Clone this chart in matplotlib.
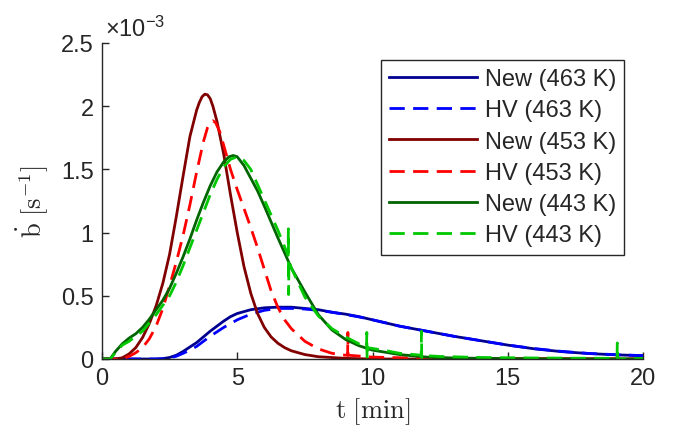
import matplotlib
matplotlib.use("Agg")
import matplotlib.pyplot as plt
from matplotlib.ticker import FuncFormatter

plt.rcParams['font.family'] = ['Liberation Sans', 'DejaVu Sans']
plt.rcParams['mathtext.fontset'] = 'cm'

SCALE = 1e-3

# New (463 K)
t_new463 = [0, 2.0, 2.25, 2.5, 2.75, 3.0, 3.25, 3.5, 3.75, 4.0, 4.25, 4.5, 4.75, 5.0, 5.5, 6.0, 6.5,
            7.0, 7.5, 8.0, 8.5, 9.0, 9.5, 10, 10.5, 11, 12, 13, 14, 15, 16, 17, 18, 19, 20]
v_new463 = [0, 0, 0.003, 0.012, 0.03, 0.06, 0.095, 0.13, 0.175, 0.22, 0.26, 0.30, 0.335, 0.36, 0.39,
            0.405, 0.41, 0.41, 0.40, 0.39, 0.37, 0.355, 0.335, 0.31, 0.285, 0.26, 0.22, 0.18, 0.145,
            0.11, 0.08, 0.058, 0.043, 0.033, 0.026]

# HV (463 K)
t_hv463 = [0, 2.0, 2.25, 2.5, 2.75, 3.0, 3.25, 3.5, 3.75, 4.0, 4.25, 4.5, 4.75, 5.0, 5.5, 6.0, 6.5,
           7.0, 7.5, 8.0, 8.5, 9.0, 9.5, 10, 10.5, 11, 12, 13, 14, 15, 16, 17, 18, 19, 20]
v_hv463 = [0, 0, 0.002, 0.008, 0.022, 0.045, 0.07, 0.10, 0.14, 0.18, 0.215, 0.25, 0.28, 0.31, 0.355,
           0.385, 0.40, 0.40, 0.395, 0.385, 0.37, 0.352, 0.333, 0.31, 0.285, 0.26, 0.22, 0.18, 0.145,
           0.11, 0.082, 0.06, 0.044, 0.034, 0.027]

# New (453 K)
t_new453 = [0, 0.5, 0.75, 1.0, 1.25, 1.5, 1.75, 2.0, 2.25, 2.5, 2.75, 3.0, 3.25, 3.5, 3.6, 3.7, 3.8,
            3.9, 4.0, 4.1, 4.25, 4.5, 4.75, 5.0, 5.25, 5.5, 5.75, 6.0, 6.25, 6.5, 6.75, 7.0, 7.5,
            8.0, 9.0, 10, 20]
v_new453 = [0, 0, 0.01, 0.04, 0.09, 0.17, 0.28, 0.42, 0.60, 0.83, 1.13, 1.45, 1.76, 1.97, 2.03, 2.075,
            2.095, 2.09, 2.06, 2.00, 1.88, 1.62, 1.30, 1.00, 0.73, 0.52, 0.36, 0.25, 0.175, 0.125,
            0.09, 0.065, 0.035, 0.018, 0.005, 0, 0]

# HV (453 K)
t_hv453 = [0, 0.75, 1.0, 1.25, 1.5, 1.75, 2.0, 2.25, 2.5, 2.75, 3.0, 3.25, 3.5, 3.75, 3.9, 4.0, 4.1,
           4.2, 4.35, 4.5, 4.75, 5.0, 5.25, 5.5, 5.75, 6.0, 6.25, 6.5, 6.75, 7.0, 7.5, 8.0, 8.5, 9.0,
           9.08, 9.09, 9.10, 10, 12, 20]
v_hv453 = [0, 0, 0.02, 0.05, 0.09, 0.16, 0.26, 0.40, 0.58, 0.77, 0.98, 1.22, 1.48, 1.72, 1.83, 1.87,
           1.885, 1.87, 1.80, 1.69, 1.50, 1.34, 1.19, 1.04, 0.88, 0.71, 0.54, 0.41, 0.31, 0.24, 0.14,
           0.08, 0.045, 0.03, 0.03, 0.21, 0.03, 0.015, 0.005, 0]

# New (443 K)
t_new443 = [0, 0.3, 0.5, 0.75, 1.0, 1.25, 1.5, 1.75, 2.0, 2.25, 2.5, 2.75, 3.0, 3.25, 3.5, 3.75, 4.0,
            4.25, 4.5, 4.7, 4.85, 5.0, 5.25, 5.5, 5.75, 6.0, 6.5, 7.0, 7.5, 8.0, 8.5, 9.0, 9.5, 10,
            11, 12, 13, 15, 20]
v_new443 = [0, 0, 0.06, 0.12, 0.165, 0.20, 0.25, 0.315, 0.39, 0.465, 0.56, 0.68, 0.81, 0.95, 1.10,
            1.24, 1.37, 1.48, 1.56, 1.60, 1.61, 1.60, 1.53, 1.43, 1.33, 1.21, 0.96, 0.72, 0.53, 0.35,
            0.23, 0.155, 0.105, 0.07, 0.035, 0.015, 0.008, 0.003, 0]

# HV (443 K)
t_hv443 = [0, 0.3, 0.5, 0.75, 1.0, 1.25, 1.5, 2.0, 2.5, 2.75, 3.0, 3.25, 3.5, 3.75, 4.0, 4.25, 4.5,
           4.75, 5.0, 5.25, 5.5, 6.0, 6.5, 6.88, 6.89, 6.90, 6.91, 7.0, 7.5, 8.0, 8.5, 9.0, 9.5, 9.78,
           9.79, 9.80, 9.81, 10.5, 11, 11.80, 11.81, 11.82, 11.83, 12.5, 14, 16, 19.04, 19.05, 19.06, 20]
v_hv443 = [0, 0, 0.05, 0.11, 0.14, 0.18, 0.22, 0.35, 0.50, 0.61, 0.74, 0.88, 1.02, 1.16, 1.30, 1.42,
           1.52, 1.58, 1.60, 1.57, 1.50, 1.26, 1.02, 0.82, 1.03, 0.51, 0.78, 0.72, 0.49, 0.34, 0.24,
           0.175, 0.12, 0.10, 0.21, 0.0, 0.09, 0.066, 0.045, 0.03, 0.22, 0.01, 0.028, 0.02, 0.012,
           0.008, 0.005, 0.127, 0.0, 0.005]

series = [
    ("New (463 K)", t_new463, v_new463, "#000090", "-"),
    ("HV (463 K)", t_hv463, v_hv463, "#0000FF", "--"),
    ("New (453 K)", t_new453, v_new453, "#800000", "-"),
    ("HV (453 K)", t_hv453, v_hv453, "#FF0000", "--"),
    ("New (443 K)", t_new443, v_new443, "#006400", "-"),
    ("HV (443 K)", t_hv443, v_hv443, "#00C800", "--"),
]

xticks = [0, 5, 10, 15, 20]
yticks = [0, 0.5, 1, 1.5, 2, 2.5]

fig = plt.figure(figsize=(6.73, 4.39), dpi=100)
ax = fig.add_axes([102/673, 1-360/439, 541/673, 316/439])

for label, t, v, color, ls in series:
    vals = [x * SCALE for x in v]
    if ls == "--":
        ax.plot(t, vals, color=color, lw=2, ls=ls, dashes=(5.5, 3), label=label)
    else:
        ax.plot(t, vals, color=color, lw=2, ls=ls, label=label)

ax.set_xlim(0, 20)
ax.set_ylim(0, 2.5 * SCALE)
ax.set_xticks(xticks)
ax.set_yticks([y * SCALE for y in yticks])
ax.yaxis.set_major_formatter(FuncFormatter(lambda val, pos: "%g" % round(val / SCALE, 6)))
ax.xaxis.set_major_formatter(FuncFormatter(lambda val, pos: "%g" % val))

gray = "#262626"
for s in ["top", "right"]:
    ax.spines[s].set_visible(False)
for s in ["left", "bottom"]:
    ax.spines[s].set_color(gray)
    ax.spines[s].set_linewidth(1.0)
ax.tick_params(direction="in", length=5, width=1, colors=gray, labelsize=17, pad=6)

ax.set_xlabel(r"$\mathrm{t}\ [\mathrm{min}]$", fontsize=19, color=gray, labelpad=4)
ax.set_ylabel(r"$\dot{\mathrm{b}}\ [\mathrm{s}^{-1}]$", fontsize=19, color=gray, labelpad=8)

ax.text(0.006, 1.022, r"$\mathregular{\times10^{-3}}$", transform=ax.transAxes,
        fontsize=17, color=gray, ha="left", va="baseline")

leg = ax.legend(loc="upper left", bbox_to_anchor=((381-102)/541, (360-61)/316),
                fontsize=17, handlelength=3.7, handletextpad=0.34, labelspacing=0.39,
                borderpad=0.35, borderaxespad=0, fancybox=False, framealpha=1)
leg.get_frame().set_edgecolor(gray)
leg.get_frame().set_linewidth(1.0)
for txt in leg.get_texts():
    txt.set_color(gray)

fig.savefig("out.png", dpi=100)
